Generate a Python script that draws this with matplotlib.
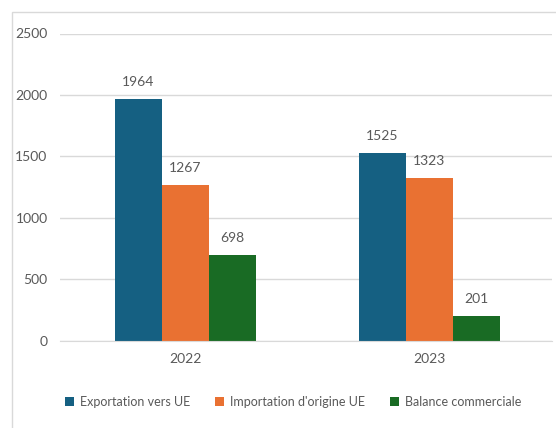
import matplotlib
matplotlib.use("Agg")
import matplotlib.pyplot as plt
from matplotlib.patches import Rectangle
import numpy as np

years = ["2022", "2023"]
exportation = [1964, 1525]
importation = [1267, 1323]
balance = [698, 201]
series_names = ["Exportation vers UE", "Importation d'origine UE", "Balance commerciale"]
colors = ["#156082", "#E97132", "#196B24"]
text_color = "#595959"

plt.rcParams["font.family"] = ["Lato", "DejaVu Sans"]

W, H = 556, 428
fig = plt.figure(figsize=(W / 100, H / 100), dpi=100)

# chart area border (only left/top visible in the crop)
fig.patches.append(Rectangle((12 / W, -0.1), 1.2, (H - 12) / H + 0.1,
                             transform=fig.transFigure, fill=False,
                             edgecolor="#D9D9D9", linewidth=1.0))

ax = fig.add_axes([60 / W, (H - 340.7) / H, (552 - 60) / W, (340.7 - 33.5) / H])

x = np.arange(len(years))
bw = 47 / 243.5
for i, (vals, name) in enumerate(zip([exportation, importation, balance], series_names)):
    pos = x + (i - 1) * bw
    bars = ax.bar(pos, vals, width=bw, color=colors[i], label=name, zorder=3)
    for b, v in zip(bars, vals):
        ax.annotate(str(v), (b.get_x() + b.get_width() / 2, v),
                    xytext=(0, 12.5), textcoords="offset points",
                    ha="center", va="center", fontsize=10, color=text_color)

ax.set_xlim(-(185.5 - 60) / 243.5, 1 + (552 - 429) / 243.5)
ax.set_ylim(0, 2500)
ax.set_yticks(np.arange(0, 2501, 500))
ax.set_xticks(x)
ax.set_xticklabels(years)
ax.yaxis.grid(True, color="#D9D9D9", linewidth=1.0, zorder=0)
ax.tick_params(axis="both", length=0, labelsize=10, labelcolor=text_color)
ax.tick_params(axis="y", pad=9)
ax.tick_params(axis="x", pad=9)
for s in ["top", "right", "left"]:
    ax.spines[s].set_visible(False)
ax.spines["bottom"].set_color("#D9D9D9")
ax.spines["bottom"].set_zorder(4)

fig.legend(loc="center", bbox_to_anchor=(293 / W, (H - 402) / H), ncol=3,
           frameon=False, fontsize=9, labelcolor=text_color,
           handlelength=0.75, handleheight=0.75, handletextpad=0.45,
           columnspacing=2.0)

fig.savefig("out.png", dpi=100)
